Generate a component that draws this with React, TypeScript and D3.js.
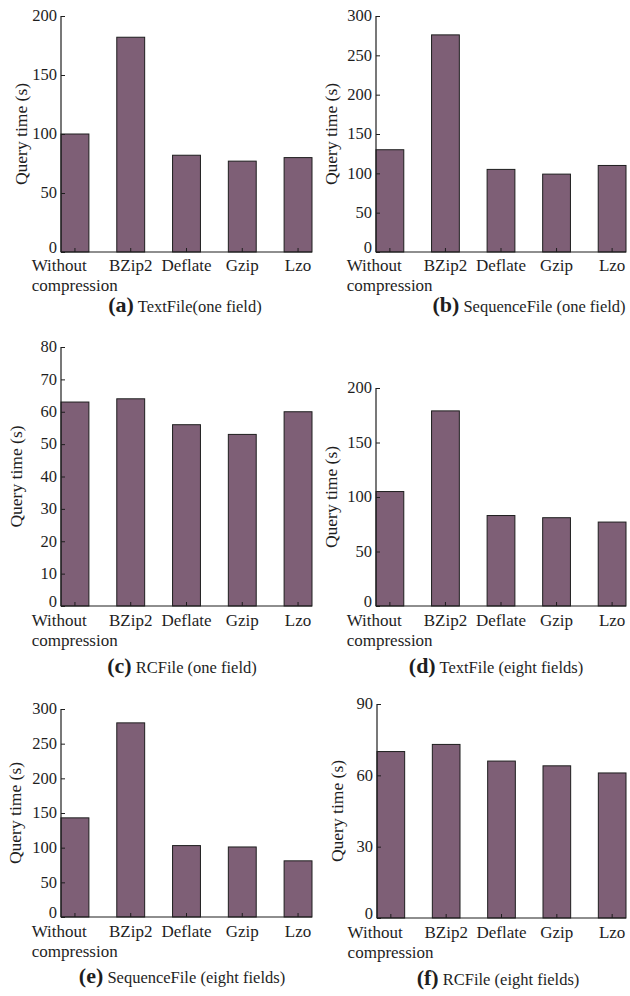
import React, { useRef, useEffect } from "react";
import * as d3 from "d3";

// categories shared by all six panels
const categories = ["Without compression", "BZip2", "Deflate", "Gzip", "Lzo"];

// query times (s)
const textOneField = [100, 182, 82, 77, 80];
const seqOneField = [130, 276, 105, 99, 110];
const rcOneField = [63, 64, 56, 53, 60];
const textEightFields = [105, 179, 83, 81, 77];
const seqEightFields = [143, 280, 103, 101, 81];
const rcEightFields = [70, 73, 66, 64, 61];

// y tick values per panel
const ticks200 = [0, 50, 100, 150, 200];
const ticks300 = [0, 50, 100, 150, 200, 250, 300];
const ticks80 = [0, 10, 20, 30, 40, 50, 60, 70, 80];
const ticks90 = [0, 30, 60, 90];

const letters = ["(a)", "(b)", "(c)", "(d)", "(e)", "(f)"];
const captions = [
  "TextFile(one field)",
  "SequenceFile (one field)",
  "RCFile (one field)",
  "TextFile (eight fields)",
  "SequenceFile (eight fields)",
  "RCFile (eight fields)",
];

const yLabel = "Query time (s)";
const barColor = "#7e5f76";
const ink = "#1e1e1e";
const font = "'Liberation Serif', 'Times New Roman', serif";

// layout per panel (pixels); lab = baseline offset of the first x label line
const panels = [
  { values: textOneField, ticks: ticks200, x0: 61, x1: 312, top: 16, bottom: 252, lab: 19, tx: 185, ty: 312, lx: 21 },
  { values: seqOneField, ticks: ticks300, x0: 376, x1: 626, top: 16, bottom: 252, lab: 19, tx: 529, ty: 312, lx: 331 },
  { values: rcOneField, ticks: ticks80, x0: 61, x1: 312, top: 347, bottom: 606, lab: 20, tx: 182, ty: 673, lx: 16 },
  { values: textEightFields, ticks: ticks200, x0: 376, x1: 626, top: 388, bottom: 606, lab: 20, tx: 496, ty: 673, lx: 331 },
  { values: seqEightFields, ticks: ticks300, x0: 61, x1: 312, top: 709, bottom: 917, lab: 20, tx: 182, ty: 983, lx: 15 },
  { values: rcEightFields, ticks: ticks90, x0: 377, x1: 626, top: 704, bottom: 918, lab: 20, tx: 498, ty: 985, lx: 337 },
];

export default function App() {
  const ref = useRef<SVGSVGElement>(null);

  useEffect(() => {
    const svg = d3.select(ref.current);
    svg.selectAll("*").remove();

    panels.forEach((p, pi) => {
      const g = svg.append("g");
      const x = d3.scaleBand<string>()
        .domain(categories)
        .range([p.x0, p.x1])
        .paddingInner(0.5)
        .paddingOuter(0);
      const y = d3.scaleLinear()
        .domain([0, d3.max(p.ticks)!])
        .range([p.bottom, p.top]);

      // bars
      g.selectAll("rect.bar")
        .data(p.values)
        .join("rect")
        .attr("x", (d, i) => x(categories[i])!)
        .attr("y", (d) => y(d))
        .attr("width", x.bandwidth())
        .attr("height", (d) => y(0) - y(d))
        .attr("fill", barColor)
        .attr("stroke", ink)
        .attr("stroke-width", 1);

      // y axis, ticks pointing inward
      const yAxis = g.append("g")
        .attr("transform", `translate(${p.x0},0)`)
        .call(d3.axisRight(y).tickValues(p.ticks).tickSize(4).tickFormat(() => ""));
      yAxis.select(".domain").attr("stroke", ink).attr("stroke-width", 1.2).attr("d", `M0,${p.top}V${p.bottom}`);
      yAxis.selectAll("line").attr("stroke", ink);
      g.selectAll("text.ytick")
        .data(p.ticks)
        .join("text")
        .attr("x", p.x0 - 4)
        .attr("y", (d) => y(d) - (d === 0 ? 4 : 0))
        .attr("dy", "0.32em")
        .attr("text-anchor", "end")
        .attr("font-size", 16.5)
        .attr("font-family", font)
        .attr("fill", ink)
        .text((d) => d);

      // x axis, ticks at bar centres pointing up
      const xAxis = g.append("g")
        .attr("transform", `translate(0,${p.bottom})`)
        .call(d3.axisTop(x).tickSize(4).tickFormat(() => ""));
      xAxis.select(".domain").attr("stroke", ink).attr("stroke-width", 1.2).attr("d", `M${p.x0},0H${p.x1}`);
      xAxis.selectAll("line").attr("stroke", ink);

      categories.forEach((c, i) => {
        const cx = x(c)! + x.bandwidth() / 2;
        const words = c.split(" ");
        const t = g.append("text")
          .attr("font-size", 17)
          .attr("font-family", font)
          .attr("fill", ink);
        if (words.length === 1) {
          t.attr("x", cx).attr("y", p.bottom + p.lab).attr("text-anchor", "middle").text(c);
        } else {
          // two lines, left aligned, block centred on the bar
          words.forEach((w, wi) => {
            t.append("tspan").attr("x", 0).attr("y", p.bottom + p.lab + wi * 20).text(w);
          });
          const w = (t.node() as SVGTextElement).getBBox().width;
          t.selectAll("tspan").attr("x", cx - w / 2);
        }
      });

      // y label
      g.append("text")
        .attr("transform", `translate(${p.lx},${(p.top + p.bottom) / 2}) rotate(-90)`)
        .attr("dy", "0.35em")
        .attr("text-anchor", "middle")
        .attr("font-size", 17.5)
        .attr("font-family", font)
        .attr("fill", ink)
        .text(yLabel);

      // caption
      const cap = g.append("text")
        .attr("x", p.tx)
        .attr("y", p.ty)
        .attr("text-anchor", "middle")
        .attr("font-family", font)
        .attr("fill", ink);
      cap.append("tspan").attr("font-size", 22).attr("font-weight", "bold").text(letters[pi]);
      cap.append("tspan").attr("font-size", 16.5).text(" " + captions[pi]);
    });
  }, []);

  return (
    <svg
      ref={ref}
      width={630}
      height={996}
      style={{ position: "absolute", left: 0, top: 0, background: "#fff" }}
    />
  );
}
